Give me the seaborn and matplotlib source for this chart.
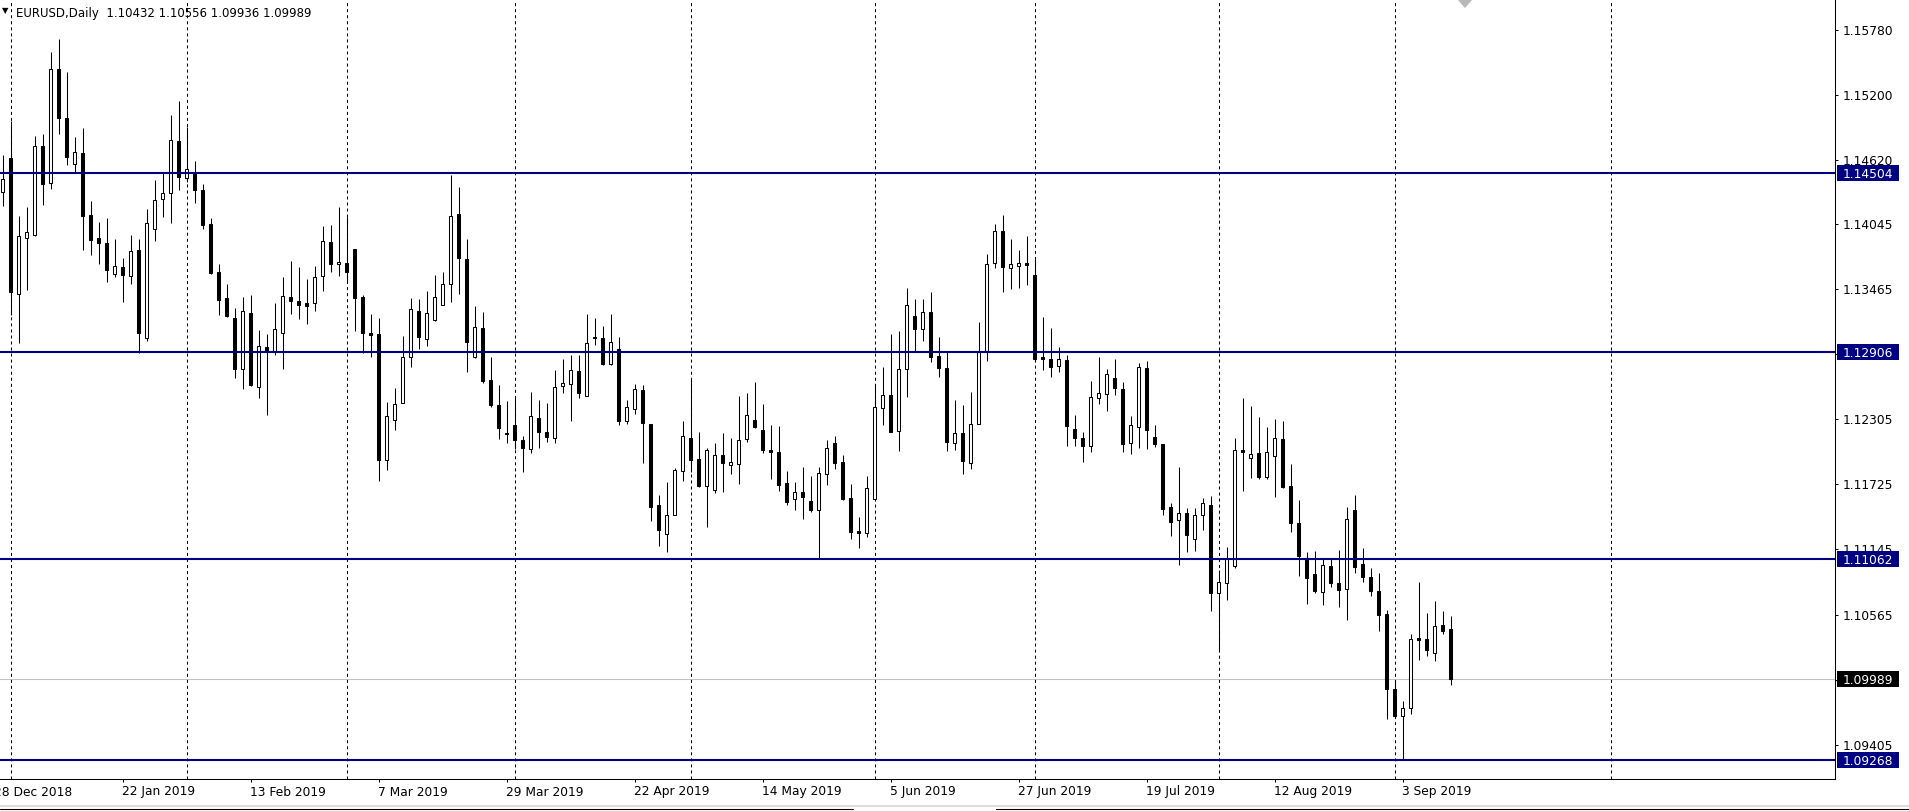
import numpy as np
import pandas as pd
import matplotlib
matplotlib.use("Agg")
import matplotlib.pyplot as plt
import matplotlib.transforms as mtransforms
from matplotlib.patches import Rectangle, Polygon
from matplotlib.lines import Line2D
import seaborn as sns

# ---------------- data ----------------
symbol_title = "EURUSD,Daily  1.10432 1.10556 1.09936 1.09989"

opens = [
    1.14331, 1.14637, 1.13422, 1.13921, 1.13948, 1.14741, 1.14411, 1.15427, 1.14990, 1.14580,
    1.14678, 1.14126, 1.13921, 1.13876, 1.13606, 1.13662, 1.13588, 1.13814, 1.13030, 1.14001,
    1.14268, 1.14322, 1.14785, 1.14455, 1.14500, 1.14351, 1.14045, 1.13617, 1.13386, 1.13208,
    1.12753, 1.13252, 1.12593, 1.12949, 1.12908, 1.13071, 1.13395, 1.13362, 1.13344, 1.13341,
    1.13582, 1.13885, 1.13689, 1.13698, 1.13822, 1.13398, 1.13074, 1.13067, 1.11939, 1.12304,
    1.12447, 1.12865, 1.13272, 1.13026, 1.13195, 1.13329, 1.13510, 1.14133, 1.13733, 1.12862,
    1.13121, 1.12657, 1.12435, 1.12188, 1.12256, 1.12123, 1.12037, 1.12319, 1.12194, 1.12138,
    1.12600, 1.12618, 1.12736, 1.12511, 1.13039, 1.13027, 1.12796, 1.12929, 1.12288, 1.12395,
    1.12567, 1.12264, 1.11542, 1.11281, 1.11450, 1.11848, 1.12139, 1.11949, 1.11709, 1.11673,
    1.11985, 1.11896, 1.11905, 1.12133, 1.12297, 1.12208, 1.12029, 1.12012, 1.11735, 1.11599,
    1.11655, 1.11578, 1.11501, 1.11816, 1.12092, 1.11922, 1.11602, 1.11308, 1.11290, 1.11599,
    1.12404, 1.12519, 1.12205, 1.12751, 1.13223, 1.13107, 1.13260, 1.12871, 1.12761, 1.12092,
    1.12182, 1.11920, 1.12262, 1.12918, 1.13696, 1.13981, 1.13658, 1.13676, 1.13696, 1.13592,
    1.12859, 1.12841, 1.12779, 1.12832, 1.12217, 1.12137, 1.12072, 1.12499, 1.12535, 1.12671,
    1.12573, 1.12098, 1.12234, 1.12760, 1.12145, 1.12083, 1.11522, 1.11406, 1.11468, 1.11237,
    1.11450, 1.11539, 1.10755, 1.10850, 1.11002, 1.12030, 1.11964, 1.12006, 1.11795, 1.11976,
    1.12128, 1.11709, 1.11380, 1.11068, 1.10923, 1.10768, 1.10994, 1.10842, 1.10789, 1.11493,
    1.11012, 1.10896, 1.10771, 1.10566, 1.09898, 1.09663, 1.09735, 1.10352, 1.10343, 1.10225,
    1.10468, 1.10432,
]
highs = [
    1.14660, 1.14966, 1.14120, 1.14200, 1.14833, 1.14850, 1.15581, 1.15697, 1.15403, 1.14824,
    1.14904, 1.14253, 1.14066, 1.14102, 1.13915, 1.13746, 1.13950, 1.13915, 1.14182, 1.14441,
    1.14500, 1.15020, 1.15144, 1.14910, 1.14609, 1.14402, 1.14102, 1.13692, 1.13514, 1.13297,
    1.13395, 1.13415, 1.13104, 1.13065, 1.13344, 1.13576, 1.13715, 1.13665, 1.13558, 1.13674,
    1.14030, 1.14039, 1.14200, 1.14110, 1.13822, 1.13413, 1.13246, 1.13210, 1.12461, 1.12586,
    1.13049, 1.13385, 1.13379, 1.13447, 1.13593, 1.13620, 1.14484, 1.14377, 1.13914, 1.13317,
    1.13263, 1.12862, 1.12613, 1.12473, 1.12503, 1.12158, 1.12550, 1.12479, 1.12452, 1.12744,
    1.12843, 1.12879, 1.12879, 1.13244, 1.13206, 1.13137, 1.13244, 1.13039, 1.12478, 1.12621,
    1.12609, 1.12264, 1.11632, 1.11747, 1.11872, 1.12291, 1.12662, 1.12193, 1.12047, 1.12095,
    1.12181, 1.12139, 1.12514, 1.12540, 1.12638, 1.12442, 1.12255, 1.12246, 1.11845, 1.11747,
    1.11881, 1.11801, 1.11881, 1.12118, 1.12157, 1.11988, 1.11729, 1.11435, 1.11801, 1.12617,
    1.12772, 1.13066, 1.13093, 1.13476, 1.13375, 1.13378, 1.13438, 1.13040, 1.12909, 1.12479,
    1.12434, 1.12550, 1.13174, 1.13776, 1.14047, 1.14127, 1.13913, 1.13815, 1.13940, 1.13735,
    1.13218, 1.13120, 1.12948, 1.12877, 1.12345, 1.12191, 1.12645, 1.12859, 1.12755, 1.12843,
    1.12635, 1.12335, 1.12805, 1.12825, 1.12255, 1.12089, 1.11560, 1.11881, 1.11513, 1.11513,
    1.11605, 1.11626, 1.10963, 1.11168, 1.12139, 1.12496, 1.12425, 1.12327, 1.12237, 1.12309,
    1.12291, 1.11908, 1.11585, 1.11122, 1.11136, 1.11059, 1.11059, 1.11139, 1.11528, 1.11635,
    1.11154, 1.10976, 1.10931, 1.10602, 1.09981, 1.09794, 1.10391, 1.10854, 1.10578, 1.10685,
    1.10596, 1.10556,
]
lows = [
    1.14212, 1.13232, 1.12982, 1.13455, 1.13940, 1.14221, 1.14363, 1.14847, 1.14577, 1.14509,
    1.13820, 1.13775, 1.13695, 1.13529, 1.13573, 1.13356, 1.13508, 1.12896, 1.13000, 1.13900,
    1.14114, 1.14060, 1.14354, 1.14420, 1.14238, 1.14007, 1.13606, 1.13240, 1.13214, 1.12670,
    1.12572, 1.12599, 1.12492, 1.12340, 1.12881, 1.12750, 1.13249, 1.13202, 1.13160, 1.13276,
    1.13451, 1.13620, 1.13588, 1.13528, 1.13089, 1.12893, 1.12857, 1.11760, 1.11850, 1.12212,
    1.12447, 1.12776, 1.12937, 1.12960, 1.13186, 1.13323, 1.13352, 1.13427, 1.12732, 1.12856,
    1.12634, 1.12420, 1.12132, 1.12099, 1.12040, 1.11835, 1.12001, 1.12054, 1.12102, 1.12099,
    1.12543, 1.12294, 1.12496, 1.12511, 1.12968, 1.12793, 1.12787, 1.12258, 1.12267, 1.12356,
    1.11920, 1.11403, 1.11180, 1.11127, 1.11450, 1.11759, 1.11839, 1.11703, 1.11349, 1.11652,
    1.11661, 1.11822, 1.11733, 1.12104, 1.12231, 1.12009, 1.11774, 1.11664, 1.11539, 1.11501,
    1.11418, 1.11477, 1.11073, 1.11723, 1.11866, 1.11590, 1.11242, 1.11162, 1.11254, 1.11599,
    1.12258, 1.12196, 1.12026, 1.12508, 1.12914, 1.13007, 1.12820, 1.12684, 1.12024, 1.12033,
    1.11816, 1.11867, 1.12262, 1.12829, 1.13658, 1.13444, 1.13471, 1.13479, 1.13503, 1.12847,
    1.12746, 1.12684, 1.12731, 1.12072, 1.12072, 1.11929, 1.12015, 1.12443, 1.12384, 1.12523,
    1.12018, 1.11994, 1.12053, 1.12038, 1.12062, 1.11456, 1.11269, 1.11011, 1.11121, 1.11133,
    1.11323, 1.10601, 1.10236, 1.10699, 1.10984, 1.11670, 1.11786, 1.11777, 1.11777, 1.11617,
    1.11697, 1.11302, 1.10908, 1.10658, 1.10759, 1.10649, 1.10807, 1.10631, 1.10519, 1.10937,
    1.10857, 1.10729, 1.10421, 1.09631, 1.09650, 1.09268, 1.09678, 1.10159, 1.10198, 1.10150,
    1.10394, 1.09936,
]
closes = [
    1.14446, 1.13437, 1.13939, 1.13974, 1.14741, 1.14408, 1.15427, 1.14996, 1.14642, 1.14687,
    1.14123, 1.13909, 1.13882, 1.13633, 1.13671, 1.13597, 1.13805, 1.13071, 1.14054, 1.14259,
    1.14322, 1.14794, 1.14470, 1.14536, 1.14354, 1.14042, 1.13614, 1.13374, 1.13231, 1.12750,
    1.13270, 1.12608, 1.12958, 1.12911, 1.13113, 1.13404, 1.13365, 1.13329, 1.13320, 1.13573,
    1.13894, 1.13695, 1.13707, 1.13623, 1.13392, 1.13071, 1.13062, 1.11939, 1.12334, 1.12441,
    1.12859, 1.13287, 1.13043, 1.13251, 1.13394, 1.13510, 1.14116, 1.13747, 1.12999, 1.13127,
    1.12648, 1.12435, 1.12230, 1.12173, 1.12117, 1.12046, 1.12334, 1.12197, 1.12150, 1.12592,
    1.12627, 1.12742, 1.12543, 1.12983, 1.13033, 1.12802, 1.12992, 1.12294, 1.12413, 1.12573,
    1.12276, 1.11522, 1.11323, 1.11450, 1.11851, 1.12154, 1.11946, 1.11715, 1.12030, 1.11985,
    1.11914, 1.11923, 1.12119, 1.12341, 1.12240, 1.12035, 1.12017, 1.11723, 1.11572, 1.11655,
    1.11617, 1.11501, 1.11824, 1.12047, 1.11919, 1.11596, 1.11305, 1.11296, 1.11691, 1.12413,
    1.12519, 1.12196, 1.12751, 1.13321, 1.13113, 1.13259, 1.12865, 1.12764, 1.12107, 1.12182,
    1.11935, 1.12262, 1.12909, 1.13687, 1.13981, 1.13667, 1.13687, 1.13696, 1.13684, 1.12847,
    1.12847, 1.12776, 1.12841, 1.12250, 1.12143, 1.12072, 1.12502, 1.12544, 1.12707, 1.12582,
    1.12089, 1.12252, 1.12769, 1.12214, 1.12089, 1.11510, 1.11394, 1.11468, 1.11278, 1.11450,
    1.11557, 1.10761, 1.10853, 1.11061, 1.12030, 1.12018, 1.11997, 1.11795, 1.12012, 1.12136,
    1.11706, 1.11385, 1.11086, 1.10893, 1.10774, 1.11003, 1.10842, 1.10786, 1.11421, 1.10991,
    1.10902, 1.10777, 1.10563, 1.09904, 1.09663, 1.09735, 1.10343, 1.10340, 1.10248, 1.10462,
    1.10421, 1.09989,
]

first_bar_date = "2018-12-31"
last_bar_date = "2019-09-11"
market_holidays = ["2019-01-01"]

time_labels = ["28 Dec 2018", "22 Jan 2019", "13 Feb 2019", "7 Mar 2019", "29 Mar 2019",
               "22 Apr 2019", "14 May 2019", "5 Jun 2019", "27 Jun 2019", "19 Jul 2019",
               "12 Aug 2019", "3 Sep 2019"]
future_month_start = "2019-10-01"

price_ticks = [1.15780, 1.15200, 1.14620, 1.14045, 1.13465, 1.12885,
               1.12305, 1.11725, 1.11145, 1.10565, 1.09985, 1.09405]
level_lines = [1.14504, 1.12906, 1.11062, 1.09268]

# ---------------- frame ----------------
dates = pd.bdate_range(first_bar_date, last_bar_date)
dates = dates[~dates.isin(pd.to_datetime(market_holidays))]
df = pd.DataFrame({"date": dates, "open": opens, "high": highs, "low": lows, "close": closes})
df["x"] = np.arange(len(df))
df["up"] = df["close"] >= df["open"]
df["body_lo"] = df[["open", "close"]].min(axis=1)
df["body_h"] = (df["close"] - df["open"]).abs()

sns.set_style("white")
plt.rcParams["font.family"] = ["DejaVu Sans"]
FS = 8.8

W, H = 1909, 811
fig = plt.figure(figsize=(W / 100, H / 100), dpi=100, facecolor="white")
AX_BOTTOM_PX = 779
AX_RIGHT_PX = 1835
ax = fig.add_axes([0, (H - AX_BOTTOM_PX) / H, AX_RIGHT_PX / W, AX_BOTTOM_PX / H])
ax.set_facecolor("white")

# month grid (first bar of every month) + one in the future area
month_start = df.index[df["date"].dt.month != df["date"].shift(1).dt.month].tolist()[1:]
future_x = df["x"].iloc[-1] + (pd.Timestamp(future_month_start) - df["date"].iloc[-1]).days
for g in month_start + [future_x]:
    ax.axvline(g, color="black", lw=0.75, ls=(0, (2.9, 2.9)), zorder=1)

# current price line
ax.axhline(df["close"].iloc[-1], color="#C0C0C0", lw=0.75, zorder=1)

# wicks and bodies
ax.vlines(df["x"], df["low"], df["high"], color="black", lw=0.75, zorder=2)
ax.bar(df["x"], df["body_h"], bottom=df["body_lo"], width=0.45,
       color=np.where(df["up"], "white", "black"), edgecolor="black",
       linewidth=0.75, zorder=3)

# horizontal levels
for v in level_lines:
    ax.axhline(v, color="#000080", lw=1.5, zorder=4)

ax.set_xlim(-0.334, (AX_RIGHT_PX - 2.67) / 8)
ax.set_ylim(1.090985, 1.160448)

for s in ["top", "left"]:
    ax.spines[s].set_visible(False)
for s in ["right", "bottom"]:
    ax.spines[s].set_color("black")
    ax.spines[s].set_linewidth(0.75)

# y axis on the right
ax.yaxis.tick_right()
ax.set_yticks(price_ticks)
ax.set_yticklabels([f"{v:.5f}" for v in price_ticks])
ax.tick_params(axis="y", right=True, left=False, labelright=True, labelleft=False,
               length=2.2, width=0.75, pad=3.4, labelsize=FS, colors="black")

# time axis labels
origin = np.datetime64(first_bar_date)
hol = np.array(market_holidays, dtype="datetime64[D]")
label_x = [int(np.busday_count(origin, np.datetime64(pd.Timestamp(t).date()), holidays=hol))
           for t in time_labels]
xlim = ax.get_xlim()
ax.set_xticks([p for p in label_x if xlim[0] <= p <= xlim[1]])
ax.set_xticklabels([])
ax.tick_params(axis="x", bottom=True, length=2.2, width=0.75, direction="out", colors="black")
tx = mtransforms.blended_transform_factory(ax.transData, ax.transAxes)
for p, t in zip(label_x, time_labels):
    ax.text(p - 0.1, -13 / AX_BOTTOM_PX, t, transform=tx, ha="left", va="center",
            fontsize=FS, color="black", clip_on=False)

# price boxes on the right
ty = mtransforms.blended_transform_factory(ax.transAxes, ax.transData)
box_h = 16 * (1.160448 - 1.090985) / AX_BOTTOM_PX
boxes = [(v, "#000080") for v in level_lines] + [(df["close"].iloc[-1], "black")]
for v, col in boxes:
    ax.add_patch(Rectangle((1837 / AX_RIGHT_PX, v - box_h / 2), 62 / AX_RIGHT_PX, box_h,
                           transform=ty, facecolor=col, edgecolor="none",
                           clip_on=False, zorder=6))
    ax.text(1842.5 / AX_RIGHT_PX, v, f"{v:.5f}", transform=ty, color="white",
            fontsize=FS, ha="left", va="center_baseline", zorder=7, clip_on=False)

# header text
fig.text(2 / W, 1 - 11 / H, "\u25BC", fontsize=6, ha="left", va="center", color="black")
fig.text(16.5 / W, 1 - 13 / H, symbol_title, fontsize=8.5, ha="left", va="center", color="black")

# chart shift marker
fig.add_artist(Polygon([(1458 / W, 1.0), (1472 / W, 1.0), (1465 / W, 1 - 8 / H)],
                       closed=True, transform=fig.transFigure, facecolor="#B8B8B8",
                       edgecolor="none"))

# bottom tab strip
fig.add_artist(Line2D([0, 1], [1 - 806 / H] * 2, color="#DCDCDC", lw=1.5, transform=fig.transFigure))
fig.add_artist(Line2D([0, 853 / W], [1 - 808.5 / H] * 2, color="black", lw=0.75, transform=fig.transFigure))
fig.add_artist(Line2D([996 / W, 1], [1 - 808.5 / H] * 2, color="black", lw=0.75, transform=fig.transFigure))

fig.savefig("out.png", dpi=100, facecolor="white")
